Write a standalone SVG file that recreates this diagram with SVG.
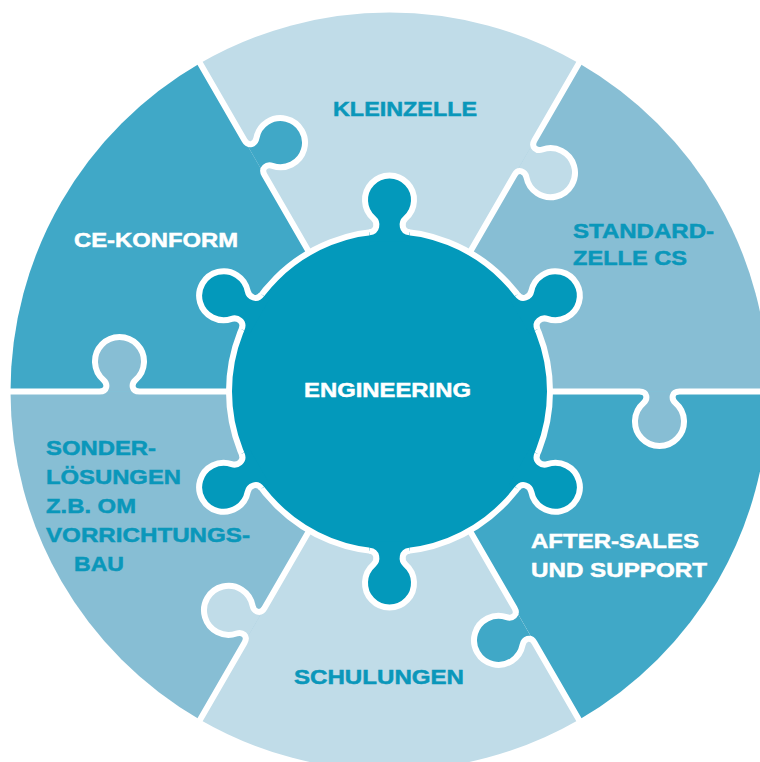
<svg xmlns="http://www.w3.org/2000/svg" xmlns:xlink="http://www.w3.org/1999/xlink" width="760" height="762" viewBox="0 0 760 762">
<style>
text{font-family:"Liberation Sans",Arial,Helvetica,sans-serif;font-weight:700;font-size:21px}
.tl{fill:#0a97ba;stroke:#0a97ba;stroke-width:0.5}
.tw{fill:#ffffff;stroke:#ffffff;stroke-width:0.5}
.ln{fill:none;stroke:#ffffff;stroke-width:6;stroke-linejoin:round}
</style>
<defs>
<path id="okf" d="M 250 0 C 258 0 258.5 7.5 254 11.45 A 24.5 24.5 0 1 0 286 11.45 C 281.5 7.5 282 0 290 0 Z"/>
<path id="obd" d="M 150 0 L 250 0 C 258 0 258.5 7.5 254 11.45 A 24.5 24.5 0 1 0 286 11.45 C 281.5 7.5 282 0 290 0 L 400 0"/>
<path id="ckf" d="M 159.25 -20 C 160.05 -12 169 -11.5 172.95 -16 A 24.5 24.5 0 1 1 172.95 16 C 169 11.5 160.05 12 159.25 20 L 150 20 L 150 -20 Z"/>
<path id="cko" d="M 159.25 -20 C 160.05 -12 169 -11.5 172.95 -16 A 24.5 24.5 0 1 1 172.95 16 C 169 11.5 160.05 12 159.25 20"/>
</defs>

<g id="kleinzelle">
<path fill="#c0dce8" d="M 389.5 391.5 L 200 63.28 A 379 379 0 0 1 579 63.28 Z"/>
<text class="tl" x="333" y="116" textLength="144" lengthAdjust="spacingAndGlyphs">KLEINZELLE</text>
</g>
<g id="standard-zelle">
<path fill="#87bed4" d="M 389.5 391.5 L 579 63.28 A 379 379 0 0 1 768.5 391.5 Z"/>
<text class="tl" x="573" y="238" textLength="141" lengthAdjust="spacingAndGlyphs">STANDARD-</text>
<text class="tl" x="573" y="265" textLength="114" lengthAdjust="spacingAndGlyphs">ZELLE CS</text>
</g>
<g id="after-sales">
<path fill="#40a8c7" d="M 389.5 391.5 L 768.5 391.5 A 379 379 0 0 1 579 719.72 Z"/>
<text class="tw" x="531" y="548" textLength="168" lengthAdjust="spacingAndGlyphs">AFTER-SALES</text>
<text class="tw" x="531" y="577" textLength="176" lengthAdjust="spacingAndGlyphs">UND SUPPORT</text>
</g>
<g id="schulungen">
<path fill="#c0dce8" d="M 389.5 391.5 L 579 719.72 A 379 379 0 0 1 200 719.72 Z"/>
<text class="tl" x="294" y="684" textLength="170" lengthAdjust="spacingAndGlyphs">SCHULUNGEN</text>
</g>
<g id="sonderloesungen">
<path fill="#87bed4" d="M 389.5 391.5 L 200 719.72 A 379 379 0 0 1 10.5 391.5 Z"/>
<text class="tl" x="46" y="455" textLength="110" lengthAdjust="spacingAndGlyphs">SONDER-</text>
<text class="tl" x="46" y="484" textLength="135" lengthAdjust="spacingAndGlyphs">LÖSUNGEN</text>
<text class="tl" x="46" y="513" textLength="90" lengthAdjust="spacingAndGlyphs">Z.B. OM</text>
<text class="tl" x="46" y="542" textLength="204" lengthAdjust="spacingAndGlyphs">VORRICHTUNGS-</text>
<text class="tl" x="74" y="571" textLength="50" lengthAdjust="spacingAndGlyphs">BAU</text>
</g>
<g id="ce-konform">
<path fill="#40a8c7" d="M 389.5 391.5 L 10.5 391.5 A 379 379 0 0 1 200 63.28 Z"/>
<text class="tw" x="74" y="247" textLength="164" lengthAdjust="spacingAndGlyphs">CE-KONFORM</text>
</g>

<g id="knobs">
<g transform="translate(389.5 391.5)">
<use xlink:href="#okf" fill="#87bed4" transform="rotate(0)"/>
<use xlink:href="#okf" fill="#40a8c7" transform="rotate(60)"/>
<use xlink:href="#okf" fill="#c0dce8" transform="rotate(120)"/>
<use xlink:href="#okf" fill="#87bed4" transform="rotate(180)"/>
<use xlink:href="#okf" fill="#c0dce8" transform="rotate(300)"/>
</g>
<path fill="#40a8c7" d="M 264.5 174.99 C 260.5 168.07 266.75 163.88 272.42 165.8 A 24.5 24.5 0 1 0 256.42 138.09 C 255.25 143.97 248.5 147.28 244.5 140.35 Z"/>
</g>

<g id="connectors" transform="translate(389.5 391.5)">
<use xlink:href="#obd" class="ln" transform="rotate(0)"/>
<use xlink:href="#obd" class="ln" transform="rotate(60)"/>
<use xlink:href="#obd" class="ln" transform="rotate(120)"/>
<use xlink:href="#obd" class="ln" transform="rotate(180)"/>
<use xlink:href="#obd" class="ln" transform="rotate(240)"/>
<use xlink:href="#obd" class="ln" transform="rotate(300)"/>
</g>

<g id="engineering">
<g transform="translate(389.5 391.5)">
<circle fill="#0399bb" cx="0" cy="0" r="160.5" stroke="#ffffff" stroke-width="6"/>
<use xlink:href="#ckf" fill="#0399bb" transform="rotate(30)"/>
<use xlink:href="#ckf" fill="#0399bb" transform="rotate(90)"/>
<use xlink:href="#ckf" fill="#0399bb" transform="rotate(150)"/>
<use xlink:href="#ckf" fill="#0399bb" transform="rotate(210)"/>
<use xlink:href="#ckf" fill="#0399bb" transform="rotate(270)"/>
<use xlink:href="#ckf" fill="#0399bb" transform="rotate(330)"/>
<use xlink:href="#cko" class="ln" transform="rotate(30)"/>
<use xlink:href="#cko" class="ln" transform="rotate(90)"/>
<use xlink:href="#cko" class="ln" transform="rotate(150)"/>
<use xlink:href="#cko" class="ln" transform="rotate(210)"/>
<use xlink:href="#cko" class="ln" transform="rotate(270)"/>
<use xlink:href="#cko" class="ln" transform="rotate(330)"/>
</g>
<text class="tw" x="304" y="397" textLength="167" lengthAdjust="spacingAndGlyphs">ENGINEERING</text>
</g>
</svg>
